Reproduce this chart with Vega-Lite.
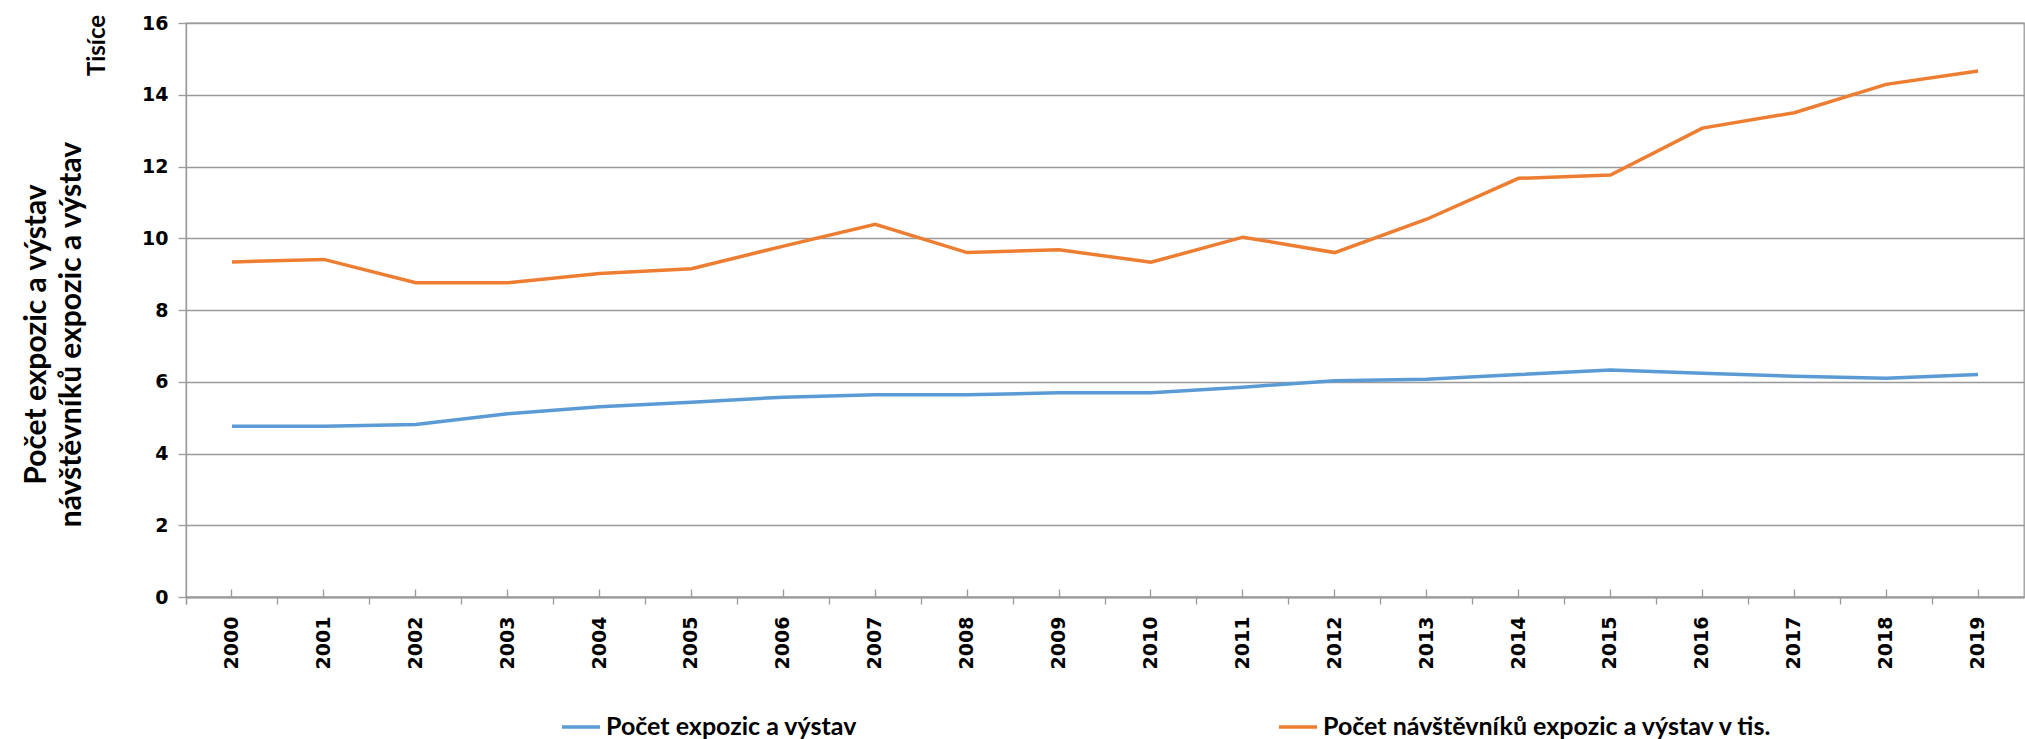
{
  "$schema": "https://vega.github.io/schema/vega-lite/v6.json",
  "autosize": "none",
  "padding": {"left": 186, "top": 23, "right": 1, "bottom": 142},
  "width": 1838,
  "height": 574,
  "background": "white",
  "config": {
    "view": {"stroke": "#999999", "strokeWidth": 1.3},
    "axis": {"domainColor": "#999999", "tickColor": "#999999", "gridColor": "#999999", "domainWidth": 1.3, "tickWidth": 1.3, "gridWidth": 1.3}
  },
  "data": {
    "values": [
      {"rok": "2000", "ukazatel": "Počet expozic a výstav", "hodnota": 4.76},
      {"rok": "2001", "ukazatel": "Počet expozic a výstav", "hodnota": 4.76},
      {"rok": "2002", "ukazatel": "Počet expozic a výstav", "hodnota": 4.81},
      {"rok": "2003", "ukazatel": "Počet expozic a výstav", "hodnota": 5.11},
      {"rok": "2004", "ukazatel": "Počet expozic a výstav", "hodnota": 5.30},
      {"rok": "2005", "ukazatel": "Počet expozic a výstav", "hodnota": 5.43},
      {"rok": "2006", "ukazatel": "Počet expozic a výstav", "hodnota": 5.57},
      {"rok": "2007", "ukazatel": "Počet expozic a výstav", "hodnota": 5.64},
      {"rok": "2008", "ukazatel": "Počet expozic a výstav", "hodnota": 5.64},
      {"rok": "2009", "ukazatel": "Počet expozic a výstav", "hodnota": 5.69},
      {"rok": "2010", "ukazatel": "Počet expozic a výstav", "hodnota": 5.69},
      {"rok": "2011", "ukazatel": "Počet expozic a výstav", "hodnota": 5.85},
      {"rok": "2012", "ukazatel": "Počet expozic a výstav", "hodnota": 6.03},
      {"rok": "2013", "ukazatel": "Počet expozic a výstav", "hodnota": 6.07},
      {"rok": "2014", "ukazatel": "Počet expozic a výstav", "hodnota": 6.20},
      {"rok": "2015", "ukazatel": "Počet expozic a výstav", "hodnota": 6.33},
      {"rok": "2016", "ukazatel": "Počet expozic a výstav", "hodnota": 6.24},
      {"rok": "2017", "ukazatel": "Počet expozic a výstav", "hodnota": 6.15},
      {"rok": "2018", "ukazatel": "Počet expozic a výstav", "hodnota": 6.10},
      {"rok": "2019", "ukazatel": "Počet expozic a výstav", "hodnota": 6.20},
      {"rok": "2000", "ukazatel": "Počet návštěvníků expozic a výstav v tis.", "hodnota": 9.34},
      {"rok": "2001", "ukazatel": "Počet návštěvníků expozic a výstav v tis.", "hodnota": 9.41},
      {"rok": "2002", "ukazatel": "Počet návštěvníků expozic a výstav v tis.", "hodnota": 8.76},
      {"rok": "2003", "ukazatel": "Počet návštěvníků expozic a výstav v tis.", "hodnota": 8.76},
      {"rok": "2004", "ukazatel": "Počet návštěvníků expozic a výstav v tis.", "hodnota": 9.02},
      {"rok": "2005", "ukazatel": "Počet návštěvníků expozic a výstav v tis.", "hodnota": 9.15},
      {"rok": "2006", "ukazatel": "Počet návštěvníků expozic a výstav v tis.", "hodnota": 9.78},
      {"rok": "2007", "ukazatel": "Počet návštěvníků expozic a výstav v tis.", "hodnota": 10.39},
      {"rok": "2008", "ukazatel": "Počet návštěvníků expozic a výstav v tis.", "hodnota": 9.60},
      {"rok": "2009", "ukazatel": "Počet návštěvníků expozic a výstav v tis.", "hodnota": 9.68},
      {"rok": "2010", "ukazatel": "Počet návštěvníků expozic a výstav v tis.", "hodnota": 9.33},
      {"rok": "2011", "ukazatel": "Počet návštěvníků expozic a výstav v tis.", "hodnota": 10.03},
      {"rok": "2012", "ukazatel": "Počet návštěvníků expozic a výstav v tis.", "hodnota": 9.60},
      {"rok": "2013", "ukazatel": "Počet návštěvníků expozic a výstav v tis.", "hodnota": 10.53},
      {"rok": "2014", "ukazatel": "Počet návštěvníků expozic a výstav v tis.", "hodnota": 11.67},
      {"rok": "2015", "ukazatel": "Počet návštěvníků expozic a výstav v tis.", "hodnota": 11.76},
      {"rok": "2016", "ukazatel": "Počet návštěvníků expozic a výstav v tis.", "hodnota": 13.07},
      {"rok": "2017", "ukazatel": "Počet návštěvníků expozic a výstav v tis.", "hodnota": 13.50},
      {"rok": "2018", "ukazatel": "Počet návštěvníků expozic a výstav v tis.", "hodnota": 14.29},
      {"rok": "2019", "ukazatel": "Počet návštěvníků expozic a výstav v tis.", "hodnota": 14.66}
    ]
  },
  "layer": [
    {
      "mark": {"type": "line", "strokeWidth": 3.5},
      "encoding": {
        "x": {
          "field": "rok", "type": "ordinal",
          "scale": {"type": "band", "paddingInner": 0, "paddingOuter": 0},
          "axis": {
            "orient": "bottom", "title": null, "labelAngle": -90,
            "labelFont": "DejaVu Sans", "labelFontWeight": "bold", "labelFontSize": 19, "labelColor": "#000000",
            "labelAlign": "right", "labelBaseline": "middle",
            "tickSize": -8, "labelPadding": 27, "bandPosition": 0.5, "grid": false
          }
        },
        "y": {
          "field": "hodnota", "type": "quantitative",
          "scale": {"domain": [0, 16], "nice": false},
          "axis": {
            "orient": "left", "values": [0, 2, 4, 6, 8, 10, 12, 14, 16], "grid": true,
            "tickSize": 8, "labelPadding": 10,
            "labelFont": "DejaVu Sans", "labelFontWeight": "bold", "labelFontSize": 19, "labelColor": "#000000",
            "title": ["Počet expozic a výstav", "návštěvníků expozic a výstav"],
            "titleFont": "Lato", "titleFontWeight": "bold", "titleFontSize": 30, "titleColor": "#000000",
            "titleAngle": -90, "titleAlign": "center", "titleBaseline": "bottom",
            "titleX": -135, "titleY": 311, "titleLineHeight": 35
          }
        },
        "color": {
          "field": "ukazatel", "type": "nominal",
          "scale": {"domain": ["Počet expozic a výstav", "Počet návštěvníků expozic a výstav v tis."], "range": ["#5B9BD5", "#ED7D31"]},
          "legend": {
            "orient": "none", "legendX": 374, "legendY": 683, "direction": "horizontal", "title": null,
            "symbolType": "stroke", "symbolSize": 1444, "symbolStrokeWidth": 3.5,
            "labelFont": "Lato", "labelFontWeight": "bold", "labelFontSize": 25, "labelColor": "#000000",
            "labelOffset": 4, "columnPadding": 415, "padding": 0, "labelLimit": 1000
          }
        }
      }
    },
    {
      "mark": {"type": "line", "strokeWidth": 3, "opacity": 0},
      "encoding": {
        "x": {
          "field": "rok", "type": "ordinal",
          "axis": {"orient": "bottom", "title": null, "labels": false, "tickSize": 7, "bandPosition": 0, "tickExtra": true, "grid": false, "domain": true}
        },
        "y": {
          "field": "hodnota", "type": "quantitative",
          "axis": {
            "orient": "left", "labels": false, "ticks": false, "domain": false, "grid": false,
            "title": "Tisíce", "titleFont": "Lato", "titleFontWeight": "bold", "titleFontSize": 24, "titleColor": "#000000",
            "titleAngle": -90, "titleAlign": "center", "titleBaseline": "middle", "titleX": -89, "titleY": 22
          }
        },
        "color": {"field": "ukazatel", "type": "nominal"}
      }
    }
  ],
  "resolve": {"axis": {"x": "independent", "y": "independent"}}
}
